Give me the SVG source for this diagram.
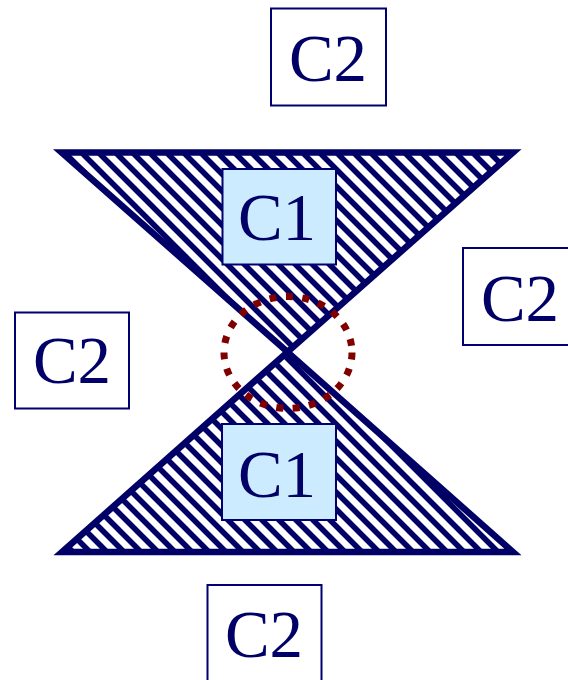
<svg xmlns="http://www.w3.org/2000/svg" width="568" height="680" viewBox="0 0 568 680">
  <style>
    .box { fill: #ffffff; stroke: #000070; stroke-width: 2; }
    .c1 { fill: #CCEBFF; stroke: #000070; stroke-width: 2; }
    .lbl { font-family: "Liberation Serif", "Times New Roman", serif; font-size: 67px; fill: #000066; text-anchor: middle; }
    .tri { fill: url(#hatch); stroke: #000066; stroke-width: 6.5; stroke-linejoin: miter; stroke-miterlimit: 10; }
  </style>
  <defs>
    <pattern id="hatch" patternUnits="userSpaceOnUse" x="0" y="3" width="17" height="17">
      <rect width="17" height="17" fill="#ffffff"/>
      <path d="M-4,-4 L21,21 M-4,13 L4,21 M13,-4 L21,4" stroke="#000066" stroke-width="5.6" fill="none"/>
    </pattern>
  </defs>
  <rect width="568" height="680" fill="#ffffff"/>
  <g id="triangles">
    <polygon id="upper-triangle" class="tri" points="61.6,152.5 513,152.5 287.5,352"/>
    <polygon id="lower-triangle" class="tri" points="62,552 513,552 287.5,352"/>
  </g>
  <g id="c1-top">
    <rect class="c1" x="222.5" y="169" width="113.5" height="95.5"/>
    <text class="lbl" x="277" y="240">C1</text>
  </g>
  <g id="c1-bottom">
    <rect class="c1" x="222" y="424" width="114" height="96"/>
    <text class="lbl" x="277" y="497">C1</text>
  </g>
  <g id="c2-top">
    <rect class="box" x="271" y="8.5" width="115" height="97"/>
    <text class="lbl" x="328" y="81">C2</text>
  </g>
  <g id="c2-left">
    <rect class="box" x="15" y="312.5" width="114" height="96"/>
    <text class="lbl" x="72" y="383">C2</text>
  </g>
  <g id="c2-right">
    <rect class="box" x="463" y="248" width="115" height="97"/>
    <text class="lbl" x="520" y="321">C2</text>
  </g>
  <g id="c2-bottom">
    <rect class="box" x="207.5" y="585" width="114" height="97"/>
    <text class="lbl" x="264" y="657">C2</text>
  </g>
  <g id="connectors">
    <ellipse id="singular-point" cx="288" cy="352.5" rx="64" ry="56" fill="none" stroke="#800000" stroke-width="7" stroke-dasharray="7 9.5"/>
  </g>
</svg>
